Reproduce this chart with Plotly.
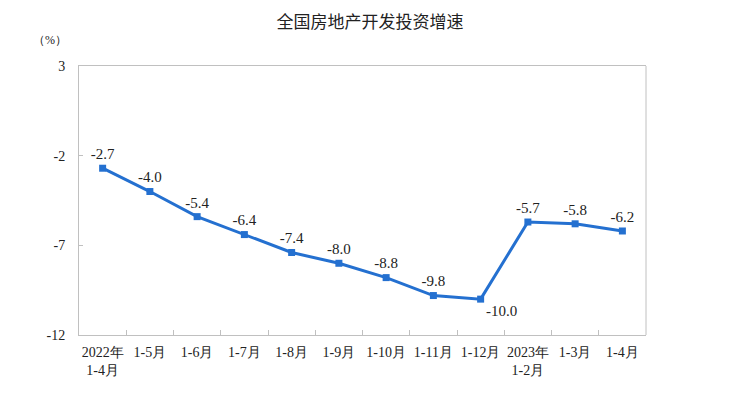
import plotly.graph_objects as go

categories = ["2022年<br>1-4月", "1-5月", "1-6月", "1-7月", "1-8月", "1-9月", "1-10月",
              "1-11月", "1-12月", "2023年<br>1-2月", "1-3月", "1-4月"]
growth = [-2.7, -4.0, -5.4, -6.4, -7.4, -8.0, -8.8, -9.8, -10.0, -5.7, -5.8, -6.2]
labels = ["-2.7", "-4.0", "-5.4", "-6.4", "-7.4", "-8.0", "-8.8", "-9.8", "-10.0", "-5.7", "-5.8", "-6.2"]
label_pos = ["top center"] * 8 + ["bottom right"] + ["top center"] * 3
y_ticks = [3, -2, -7, -12]

serif = "Liberation Serif"
W, H = 722, 379  # page body has an 8px margin

fig = go.Figure()
fig.add_trace(go.Scatter(
    x=categories, y=growth, mode="lines+markers+text",
    line=dict(color="#2470d0", width=3),
    marker=dict(symbol="square", size=7, color="#2470d0"),
    text=labels, textposition=label_pos,
    textfont=dict(family=serif, size=15, color="#222222"),
    cliponaxis=False, showlegend=False,
))

fig.update_layout(
    width=W, height=H,
    margin=dict(l=71, r=W - 71 - 567, t=58, b=H - 58 - 269, autoexpand=False),
    paper_bgcolor="white", plot_bgcolor="white",
    title=dict(text="全国房地产开发投资增速", x=362 / W, xanchor="center", y=1 - 14 / H, yanchor="middle",
               font=dict(family="Noto Sans CJK SC", size=17, color="#222222")),
    xaxis=dict(
        type="category", range=[-0.5, len(categories) - 0.5],
        showline=True, linecolor="#c0c0c0", linewidth=1, mirror=True,
        ticks="inside", tickson="boundaries", ticklen=5, tickcolor="#c0c0c0",
        showgrid=False, tickangle=0, automargin=False, ticklabelstandoff=4,
        tickfont=dict(family=serif, size=14, color="#222222"),
    ),
    yaxis=dict(
        range=[-12, 3], tickvals=y_ticks, ticktext=[str(v) for v in y_ticks],
        showline=True, linecolor="#c0c0c0", linewidth=1, mirror=False, automargin=False,
        showgrid=False, zeroline=False, ticks="inside", ticklen=4, tickcolor="#c0c0c0",
        ticklabelstandoff=10,
        tickfont=dict(family=serif, size=14, color="#222222"),
    ),
    shapes=[dict(type="line", xref="paper", yref="paper", x0=1, x1=1, y0=0, y1=1,
                 line=dict(color="#c0c0c0", width=1))],
    annotations=[dict(text="（%）", x=(50 - 79) / 567, y=(335 - 40) / 269, xref="paper", yref="paper",
                      xanchor="center", yanchor="middle", showarrow=False,
                      font=dict(family=serif, size=12, color="#222222"))],
)

fig.write_html("out.html")
